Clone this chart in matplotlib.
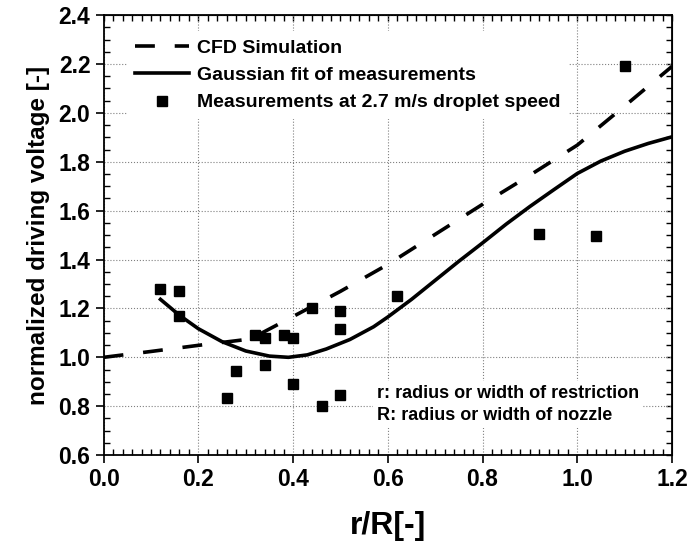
import numpy as np
import matplotlib
matplotlib.use("Agg")
import matplotlib.pyplot as plt
from matplotlib.ticker import MultipleLocator

plt.rcParams['font.family'] = ['Liberation Sans', 'DejaVu Sans']
plt.rcParams['font.weight'] = 'bold'

# measured points (r/R, normalized driving voltage)
meas_x = [0.12, 0.16, 0.16, 0.26, 0.28, 0.32, 0.34, 0.34, 0.38, 0.40,
          0.40, 0.44, 0.46, 0.50, 0.50, 0.50, 0.62, 0.92, 1.04, 1.10]
meas_y = [1.28, 1.27, 1.17, 0.835, 0.945, 1.09, 1.08, 0.97, 1.09, 1.08,
          0.89, 1.20, 0.80, 1.19, 1.115, 0.845, 1.25, 1.505, 1.495, 2.19]

# CFD simulation curve
cfd_x = [0.0, 0.1, 0.2, 0.31, 0.4, 0.5, 0.6, 0.7, 0.8, 0.9, 1.0, 1.1, 1.2]
cfd_y = [1.0, 1.024, 1.049, 1.075, 1.167, 1.27, 1.38, 1.503, 1.626, 1.745, 1.868, 2.028, 2.19]

# gaussian fit curve
fit_x = [0.12, 0.16, 0.2, 0.25, 0.3, 0.35, 0.39, 0.43, 0.47, 0.52, 0.57, 0.6,
         0.65, 0.7, 0.75, 0.8, 0.85, 0.9, 0.95, 1.0, 1.05, 1.1, 1.15, 1.2]
fit_y = [1.237, 1.172, 1.117, 1.064, 1.026, 1.005, 1.0, 1.010, 1.034, 1.073, 1.125, 1.165,
         1.237, 1.315, 1.393, 1.468, 1.545, 1.617, 1.685, 1.752, 1.803, 1.843, 1.875, 1.902]

fig = plt.figure(figsize=(6.91, 5.47), dpi=100)
ax = fig.add_axes([0.150, 0.168, 0.8225, 0.8044])

ax.plot(cfd_x, cfd_y, color='black', lw=2.6, ls=(0, (5.5, 5.5)), label='CFD Simulation')
ax.plot(fit_x, fit_y, color='black', lw=2.6, label='Gaussian fit of measurements')
ax.plot(meas_x, meas_y, 's', color='black', ms=6.8, label='Measurements at 2.7 m/s droplet speed')

ax.set_xlim(0, 1.2)
ax.set_ylim(0.6, 2.4)
ax.xaxis.set_major_locator(MultipleLocator(0.2))
ax.xaxis.set_minor_locator(MultipleLocator(0.02))
ax.yaxis.set_major_locator(MultipleLocator(0.2))
ax.yaxis.set_minor_locator(MultipleLocator(0.05))
ax.grid(True, which='major', color='gray', ls=':', lw=0.8)
ax.tick_params(which='major', direction='out', length=6, width=1.2, labelsize=16.5)
ax.tick_params(which='minor', direction='in', length=4, width=1)
ax.set_xticklabels(['%.1f' % v for v in ax.get_xticks()], fontweight='bold')
ax.set_yticklabels(['%.1f' % v for v in ax.get_yticks()], fontweight='bold')
for s in ax.spines.values():
    s.set_linewidth(1.3)

# top and right ticks pointing inward
top = ax.secondary_xaxis('top')
top.xaxis.set_major_locator(MultipleLocator(0.2))
top.xaxis.set_minor_locator(MultipleLocator(0.02))
top.tick_params(which='both', direction='in', labeltop=False, length=4, width=1)
right = ax.secondary_yaxis('right')
right.yaxis.set_major_locator(MultipleLocator(0.2))
right.yaxis.set_minor_locator(MultipleLocator(0.05))
right.tick_params(which='both', direction='in', labelright=False, length=4, width=1)

ax.set_xlabel('r/R[-]', fontsize=23, fontweight='bold', labelpad=14)
ax.set_ylabel('normalized driving voltage [-]', fontsize=17.5, fontweight='bold', labelpad=6)

leg = ax.legend(loc='upper left', bbox_to_anchor=(0.024, 0.985), frameon=True, framealpha=1,
                edgecolor='none', facecolor='white', fontsize=14, handlelength=2.8,
                labelspacing=0.5, borderpad=0.4, handletextpad=0.4)
leg.set_zorder(5)

ax.text(0.577, 0.808, 'r: radius or width of restriction\nR: radius or width of nozzle',
        fontsize=13, fontweight='bold', va='center', ha='left', zorder=4, linespacing=1.4,
        bbox=dict(facecolor='white', edgecolor='none', pad=3))

fig.savefig('out.png', dpi=100)
